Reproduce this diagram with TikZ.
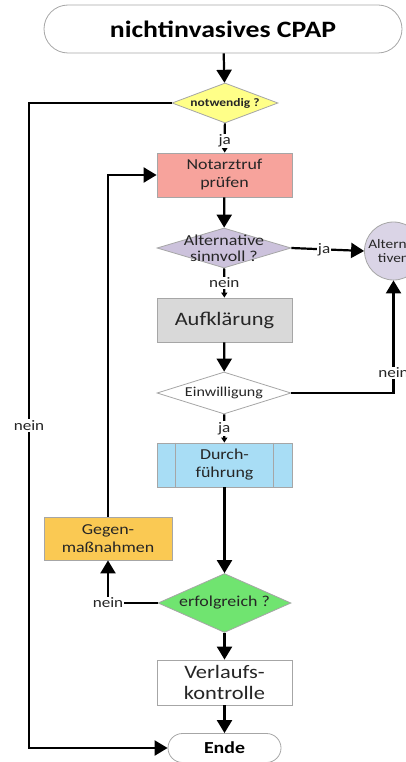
\documentclass[tikz,border=0pt]{standalone}
\usepackage{fontspec}
\setmainfont{Carlito}[FakeStretch=1.18]
\usetikzlibrary{shapes.geometric,arrows.meta}

\definecolor{edge}{HTML}{A6A6A6}
\definecolor{ink}{HTML}{262626}
\definecolor{yel}{HTML}{FFFF88}
\definecolor{salmon}{HTML}{F7A39C}
\definecolor{lav}{HTML}{CCC2DC}
\definecolor{lavlight}{HTML}{DAD4E6}
\definecolor{greybox}{HTML}{D9D9D9}
\definecolor{sky}{HTML}{A8DDF5}
\definecolor{amber}{HTML}{FAC953}
\definecolor{lime}{HTML}{70E470}

\tikzset{
  box/.style={draw=edge, line width=0.8pt, rectangle, inner sep=0pt,
              minimum width=135pt, minimum height=44pt, align=center, text=ink},
  term/.style={draw=edge, line width=0.8pt, rectangle, inner sep=0pt,
               align=center, font=\bfseries},
  dia/.style={draw=edge, line width=0.8pt, diamond, inner sep=0pt},
  txt/.style={inner sep=0pt, align=center, text=ink},
  flow/.style={line width=2.2pt, -{Triangle[width=15pt,length=13pt]}},
  link/.style={line width=2.2pt, -{Triangle[width=6pt,length=5pt]}},
  lbl/.style={fill=white, inner sep=1pt, text=ink, font=\fontsize{14.5}{15}\selectfont},
}

\begin{document}
\begin{tikzpicture}[x=1pt, y=-1pt]
\useasboundingbox (0,0) rectangle (405,762);

% start and end terminals
\node[term, minimum width=358pt, minimum height=48pt, rounded corners=24pt,
      font=\bfseries\fontsize{23.5}{25}\selectfont] (start) at (223,29) {nichtinvasives CPAP};
\node[term, minimum width=113pt, minimum height=29pt, rounded corners=14.5pt,
      font=\bfseries\fontsize{16.8}{18}\selectfont] (ende) at (224.5,748) {Ende};

% decisions
\node[dia, fill=yel, minimum width=106pt, minimum height=40pt] (notw) at (225,103) {};
\node[txt, font=\bfseries\fontsize{11.4}{13}\selectfont] (notw-t) at (notw) {notwendig ?};

\node[dia, fill=lav, minimum width=134pt, minimum height=40pt] (alt) at (224,248) {};
\node[txt, font=\fontsize{15.2}{16}\selectfont] (alt-t) at (alt) {Alternative\\sinnvoll ?};

\node[dia, fill=white, minimum width=134pt, minimum height=42pt] (einw) at (224,393) {};
\node[txt, font=\fontsize{13.6}{15}\selectfont] (einw-t) at (einw) {Einwilligung};

\node[dia, fill=lime, minimum width=133pt, minimum height=59pt] (erf) at (224.5,603) {};
\node[txt, font=\fontsize{15.2}{16}\selectfont] (erf-t) at (erf) {erfolgreich ?};

% process boxes
\node[box, fill=salmon, font=\fontsize{15.2}{18}\selectfont] (notarzt) at (224.5,175) {Notarztruf\\prüfen};
\node[box, fill=greybox, font=\fontsize{19}{20}\selectfont] (aufk) at (224.5,320) {Aufklärung};
\node[box, fill=sky, font=\fontsize{15.2}{18}\selectfont] (durch) at (224.5,465) {Durch-\\führung};
\draw[edge, line width=0.8pt] ([xshift=19pt]durch.north west) -- ([xshift=19pt]durch.south west)
                              ([xshift=-19pt]durch.north east) -- ([xshift=-19pt]durch.south east);
\node[box, fill=amber, minimum width=128pt, minimum height=43pt,
      font=\fontsize{15.2}{18}\selectfont] (gegen) at (108,538.5) {Gegen-\\maßnahmen};
\node[box, fill=white, minimum height=45pt, font=\fontsize{19}{21}\selectfont] (verl) at (224.5,682.5) {Verlaufs-\\kontrolle};

% alternatives (connector)
\node[draw=edge, line width=0.8pt, fill=lavlight, ellipse, minimum width=58pt, minimum height=58pt,
      inner sep=0pt] (circ) at (393.5,251) {};
\node[txt, font=\fontsize{13}{14}\selectfont] (circ-t) at (circ) {Alterna-\\tiven};

% flow
\draw[flow] (start) -- (notw);
\draw[link] (notw) -- node[lbl, pos=0.6] {ja} (notarzt);
\draw[flow] (notarzt) -- (alt);
\draw[flow] (alt.east) -- node[lbl, pos=0.45] {ja} (circ.west);
\draw[link] (alt) -- node[lbl] {nein} (aufk);
\draw[flow] (aufk) -- (einw);
\draw[flow] (einw.east) -| node[lbl, pos=0.59] {nein} (circ.south);
\draw[link] (einw) -- node[lbl] {ja} (durch);
\draw[flow] (durch) -- (erf);
\draw[flow] (erf.west) -| node[lbl, pos=0.5] {nein} (gegen.south);
\draw[flow] (gegen.north) |- (notarzt.west);
\draw[flow] (erf) -- (verl);
\draw[flow] (verl) -- (ende);

% "nein" path from the first decision straight to the end
\coordinate (lt) at (29,103);
\coordinate (lb) at (29,748);
\draw[flow] (notw.west) -- (lt) -- node[lbl] {nein} (lb) -- (ende.west);
\end{tikzpicture}
\end{document}
